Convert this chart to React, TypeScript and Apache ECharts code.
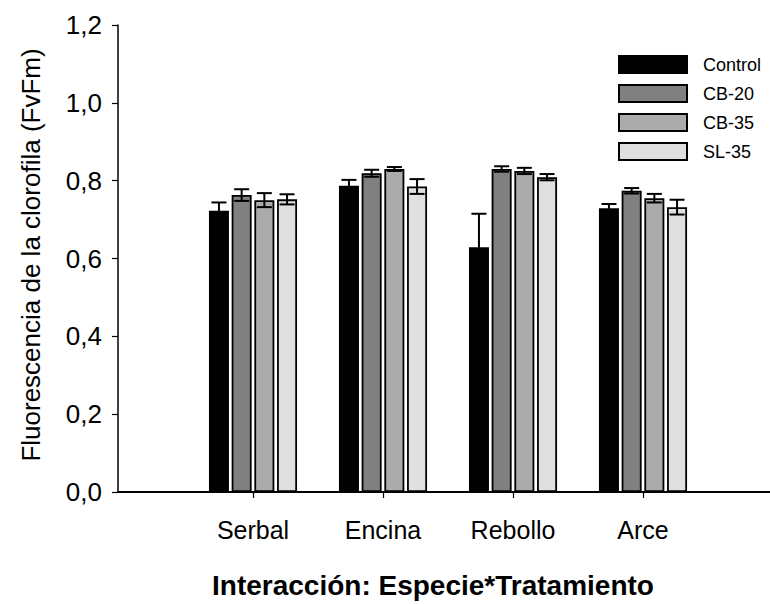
import React, { useEffect, useRef } from "react";
import * as echarts from "echarts";

// Species on the x axis and the four treatments
const categories = ["Serbal", "Encina", "Rebollo", "Arce"];
const treatments = ["Control", "CB-20", "CB-35", "SL-35"];

// Mean chlorophyll fluorescence (Fv/Fm) per species, one array per treatment
const controlMean = [0.723, 0.787, 0.629, 0.729];
const cb20Mean = [0.763, 0.819, 0.83, 0.774];
const cb35Mean = [0.75, 0.83, 0.825, 0.755];
const sl35Mean = [0.752, 0.785, 0.809, 0.732];

// Standard errors
const controlErr = [0.021, 0.015, 0.086, 0.011];
const cb20Err = [0.015, 0.009, 0.007, 0.007];
const cb35Err = [0.018, 0.005, 0.008, 0.011];
const sl35Err = [0.013, 0.019, 0.008, 0.019];

// Y axis ticks
const yTicks = [0, 0.2, 0.4, 0.6, 0.8, 1.0, 1.2];

const means = [controlMean, cb20Mean, cb35Mean, sl35Mean];
const errs = [controlErr, cb20Err, cb35Err, sl35Err];
const fills = ["#000000", "#808080", "#ababab", "#e0e0e0"];

const FONT = "'Liberation Sans', Arial, Helvetica, sans-serif";
const BAR_W = 20;
const BAR_GAP = 0.135; // fraction of bar width
const PITCH = BAR_W * (1 + BAR_GAP);

export default function App() {
  const ref = useRef<HTMLDivElement>(null);

  useEffect(() => {
    if (!ref.current) return;
    const chart = echarts.init(ref.current, null, { renderer: "svg" });

    const barSeries = treatments.map((name, i) => ({
      name,
      type: "bar",
      xAxisIndex: 1,
      yAxisIndex: 1,
      data: means[i],
      barWidth: BAR_W,
      barGap: `${BAR_GAP * 100}%`,
      itemStyle: { color: fills[i], borderColor: "#000", borderWidth: 1.8 },
      z: 2,
    }));

    const errSeries = treatments.map((name, i) => ({
      name: name + " SE",
      type: "custom",
      xAxisIndex: 1,
      yAxisIndex: 1,
      z: 5,
      silent: true,
      data: means[i].map((m, k) => [k, m, errs[i][k]]),
      renderItem: (_params: any, api: any) => {
        const k = api.value(0);
        const m = api.value(1);
        const e = api.value(2);
        const off = (i - 1.5) * PITCH;
        const hi = api.coord([k, m + e]);
        const lo = api.coord([k, m - e]);
        const x = hi[0] + off;
        const half = 7.5;
        const style = { stroke: "#000", lineWidth: 2 };
        return {
          type: "group",
          children: [
            { type: "line", shape: { x1: x, y1: lo[1], x2: x, y2: hi[1] }, style },
            { type: "line", shape: { x1: x - half, y1: hi[1], x2: x + half, y2: hi[1] }, style },
            { type: "line", shape: { x1: x - half, y1: lo[1], x2: x + half, y2: lo[1] }, style },
          ],
        };
      },
    }));

    const yMin = yTicks[0];
    const yMax = yTicks[yTicks.length - 1];
    const yStep = yTicks[1] - yTicks[0];

    chart.setOption({
      animation: false,
      backgroundColor: "#ffffff",
      textStyle: { fontFamily: FONT },
      grid: [
        { left: 118, right: 0, top: 25, bottom: 112 },
        { left: 188, width: 520, top: 25, bottom: 112 },
      ],
      xAxis: [
        {
          gridIndex: 0,
          type: "value",
          min: 0,
          max: 1,
          axisLine: { show: true, onZero: false, lineStyle: { color: "#000", width: 2 } },
          axisTick: { show: false },
          axisLabel: { show: false },
          splitLine: { show: false },
        },
        {
          gridIndex: 1,
          type: "category",
          data: categories,
          axisLine: { show: false },
          axisTick: {
            show: true,
            alignWithLabel: true,
            length: 6,
            lineStyle: { color: "#000", width: 1.2 },
          },
          axisLabel: {
            margin: 25,
            fontSize: 25,
            color: "#000",
            fontFamily: FONT,
          },
        },
      ],
      yAxis: [
        {
          gridIndex: 0,
          type: "value",
          min: yMin,
          max: yMax,
          interval: yStep,
          axisLine: { show: true, lineStyle: { color: "#000", width: 1.5 } },
          axisTick: { show: true, length: 6, lineStyle: { color: "#000", width: 1.2 } },
          axisLabel: {
            margin: 16,
            fontSize: 26,
            color: "#000",
            fontFamily: FONT,
            formatter: (v: number) => v.toFixed(1).replace(".", ","),
          },
          splitLine: { show: false },
        },
        {
          gridIndex: 1,
          type: "value",
          min: yMin,
          max: yMax,
          interval: yStep,
          show: false,
          splitLine: { show: false },
        },
      ],
      legend: {
        data: treatments,
        orient: "vertical",
        left: 613,
        top: 50,
        itemWidth: 68,
        itemHeight: 17,
        itemGap: 10,
        icon: "rect",
        selectedMode: false,
        textStyle: {
          fontSize: 18,
          color: "#000",
          fontFamily: FONT,
          padding: [0, 0, 0, 11],
        },
      },
      graphic: [
        {
          type: "text",
          x: 31,
          y: 255,
          rotation: Math.PI / 2,
          style: {
            text: "Fluorescencia de la clorofila (FvFm)",
            font: `26px ${FONT}`,
            fill: "#000",
            align: "center",
            verticalAlign: "middle",
          },
        },
        {
          type: "text",
          x: 433,
          y: 585,
          style: {
            text: "Interacción: Especie*Tratamiento",
            font: `bold 28px ${FONT}`,
            fill: "#000",
            align: "center",
            verticalAlign: "middle",
          },
        },
      ],
      series: [...barSeries, ...errSeries],
    });

    return () => chart.dispose();
  }, []);

  return (
    <div
      ref={ref}
      style={{ position: "fixed", left: 0, top: 0, width: 770, height: 604, background: "#fff" }}
    />
  );
}
